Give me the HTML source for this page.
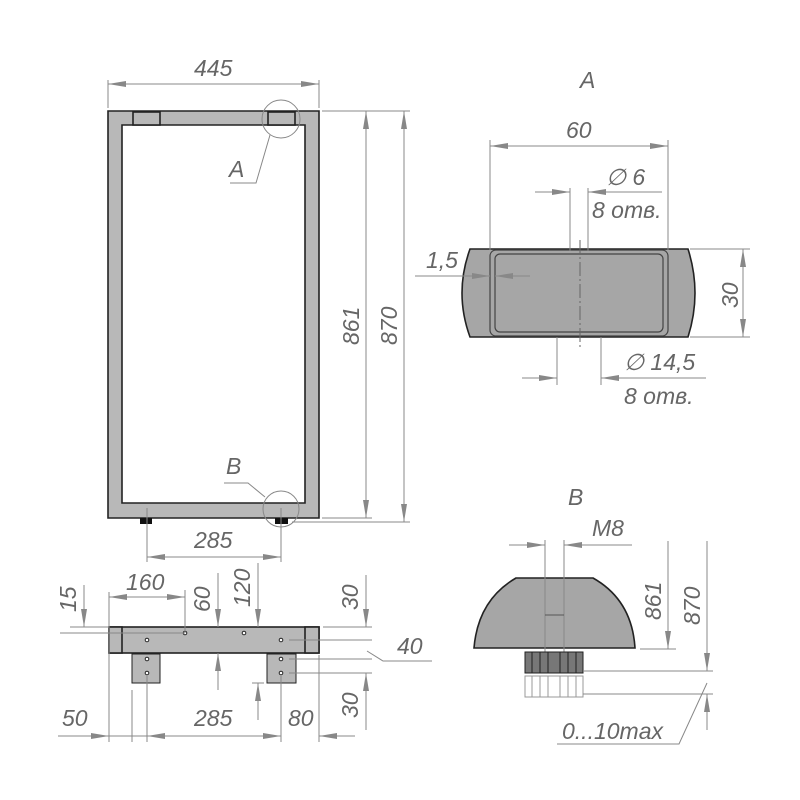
<!DOCTYPE html>
<html><head><meta charset="utf-8"><style>
html,body{margin:0;padding:0;background:#fff}
svg{display:block}
text{font-family:"Liberation Sans",sans-serif;font-style:italic;fill:#666;font-size:23px}
.d{stroke:#888;stroke-width:1;fill:none}
.o{stroke:#222;stroke-width:1.6}
</style></head><body>
<svg width="800" height="800" viewBox="0 0 800 800" xmlns="http://www.w3.org/2000/svg">
<defs>
<marker id="a" markerUnits="userSpaceOnUse" markerWidth="18" markerHeight="8" refX="18" refY="4" orient="auto-start-reverse"><path d="M0,1 L18,4 L0,7z" fill="#888"/></marker>
</defs>

<!-- MAIN FRAME -->
<path d="M108,111 H319 V518 H108 Z M122,125 V503 H305 V125 Z" fill="#b8b8b8" fill-rule="evenodd" class="o"/>
<rect x="133" y="112" width="27" height="13" fill="#b8b8b8" class="o"/>
<rect x="268" y="112" width="27" height="13" fill="#b8b8b8" class="o"/>
<rect x="140" y="518" width="12" height="6" fill="#111"/>
<rect x="275" y="518" width="13" height="6" fill="#111"/>
<!-- 445 -->
<line class="d" x1="108" y1="80" x2="108" y2="108"/><line class="d" x1="319" y1="80" x2="319" y2="108"/>
<line class="d" x1="108" y1="84" x2="319" y2="84" marker-start="url(#a)" marker-end="url(#a)"/>
<text x="194" y="76">445</text>
<!-- 861 / 870 -->
<line class="d" x1="322" y1="111" x2="410" y2="111"/>
<line class="d" x1="322" y1="518" x2="372" y2="518"/>
<line class="d" x1="292" y1="522" x2="410" y2="522"/>
<line class="d" x1="366" y1="111" x2="366" y2="518" marker-start="url(#a)" marker-end="url(#a)"/>
<line class="d" x1="404" y1="111" x2="404" y2="522" marker-start="url(#a)" marker-end="url(#a)"/>
<text transform="translate(359,345) rotate(-90)">861</text>
<text transform="translate(397,345) rotate(-90)">870</text>
<!-- A callout -->
<circle cx="281" cy="119" r="19" class="d"/>
<polyline class="d" points="270,135 256,183 230,183"/>
<text x="229" y="177" font-size="27">A</text>
<!-- B callout -->
<circle cx="281" cy="509" r="18" class="d"/>
<polyline class="d" points="265,497 248,483 224,483"/>
<text x="226" y="474" font-size="27">B</text>
<!-- 285 -->
<line class="d" x1="147" y1="508" x2="147" y2="562"/><line class="d" x1="281" y1="508" x2="281" y2="562"/>
<line class="d" x1="147" y1="557" x2="281" y2="557" marker-start="url(#a)" marker-end="url(#a)"/>
<text x="194" y="548">285</text>

<!-- VIEW A -->
<text x="580" y="88" font-size="27">A</text>
<path d="M470,249 H688 Q702,293 688,337 H470 Q454,293 470,249 Z" fill="#a6a6a6" class="o"/>
<rect x="490" y="250" width="178" height="86" rx="6" fill="none" stroke="#444" stroke-width="1.2"/>
<rect x="495" y="254" width="168" height="78" rx="5" fill="none" stroke="#444" stroke-width="1.2"/>
<line class="d" x1="490" y1="140" x2="490" y2="250"/><line class="d" x1="668" y1="140" x2="668" y2="250"/>
<line class="d" x1="490" y1="146" x2="668" y2="146" marker-start="url(#a)" marker-end="url(#a)"/>
<text x="566" y="138">60</text>
<line class="d" x1="570" y1="188" x2="570" y2="251"/><line class="d" x1="588" y1="188" x2="588" y2="251"/>
<line class="d" x1="535" y1="192" x2="570" y2="192" marker-end="url(#a)"/>
<line class="d" x1="588" y1="192" x2="662" y2="192" marker-start="url(#a)"/>
<text x="606" y="185">∅ 6</text>
<text x="592" y="218">8 отв.</text>
<line x1="580" y1="240" x2="580" y2="348" stroke="#666" stroke-dasharray="14,3,2,3"/>
<line class="d" x1="415" y1="276" x2="490" y2="276" marker-end="url(#a)"/>
<line class="d" x1="495" y1="276" x2="530" y2="276" marker-start="url(#a)"/>
<text x="426" y="268">1,5</text>
<line class="d" x1="690" y1="249" x2="750" y2="249"/><line class="d" x1="690" y1="337" x2="750" y2="337"/>
<line class="d" x1="743" y1="249" x2="743" y2="337" marker-start="url(#a)" marker-end="url(#a)"/>
<text transform="translate(738,308) rotate(-90)">30</text>
<line class="d" x1="557" y1="337" x2="557" y2="385"/><line class="d" x1="601" y1="337" x2="601" y2="385"/>
<line class="d" x1="522" y1="378" x2="557" y2="378" marker-end="url(#a)"/>
<line class="d" x1="601" y1="378" x2="706" y2="378" marker-start="url(#a)"/>
<text x="624" y="370">∅ 14,5</text>
<text x="624" y="404">8 отв.</text>

<!-- VIEW B -->
<text x="568" y="505" font-size="27">B</text>
<path d="M516,578 H593 Q632,600 635,648 H474 Q478,600 516,578 Z" fill="#a6a6a6" class="o"/>
<line class="d" x1="545" y1="540" x2="545" y2="672"/><line class="d" x1="564" y1="540" x2="564" y2="672"/>
<line x1="545" y1="615" x2="564" y2="615" stroke="#555"/>
<line class="d" x1="509" y1="545" x2="545" y2="545" marker-end="url(#a)"/>
<line class="d" x1="564" y1="545" x2="632" y2="545" marker-start="url(#a)"/>
<text x="592" y="536">M8</text>
<rect x="525" y="652" width="58" height="21" fill="#777" stroke="#222"/>
<g stroke="#222" stroke-width="1"><line x1="532" y1="652" x2="532" y2="673"/><line x1="540" y1="652" x2="540" y2="673"/><line x1="548" y1="652" x2="548" y2="673"/><line x1="560" y1="652" x2="560" y2="673"/><line x1="568" y1="652" x2="568" y2="673"/><line x1="576" y1="652" x2="576" y2="673"/></g>
<rect x="525" y="676" width="58" height="21" fill="#fff" stroke="#999"/>
<g stroke="#999"><line x1="532" y1="676" x2="532" y2="697"/><line x1="540" y1="676" x2="540" y2="697"/><line x1="548" y1="676" x2="548" y2="697"/><line x1="560" y1="676" x2="560" y2="697"/><line x1="568" y1="676" x2="568" y2="697"/><line x1="576" y1="676" x2="576" y2="697"/></g>
<line class="d" x1="640" y1="649" x2="676" y2="649"/>
<line class="d" x1="583" y1="671" x2="713" y2="671"/>
<line class="d" x1="583" y1="694" x2="713" y2="694"/>
<line class="d" x1="668" y1="541" x2="668" y2="649" marker-end="url(#a)"/>
<line class="d" x1="707" y1="541" x2="707" y2="671" marker-end="url(#a)"/>
<line class="d" x1="707" y1="694" x2="707" y2="730" marker-start="url(#a)"/>
<text transform="translate(661,620) rotate(-90)">861</text>
<text transform="translate(700,625) rotate(-90)">870</text>
<polyline class="d" points="557,744 679,744 707,683"/>
<text x="562" y="739">0...10max</text>

<!-- BOTTOM VIEW -->
<rect x="109" y="627" width="210" height="26" fill="#b8b8b8" class="o"/>
<rect x="109" y="627" width="13" height="26" fill="#b8b8b8" class="o"/>
<rect x="305" y="627" width="14" height="26" fill="#b8b8b8" class="o"/>
<rect x="132" y="654" width="28" height="29" fill="#b8b8b8" stroke="#222"/>
<rect x="267" y="654" width="29" height="29" fill="#b8b8b8" stroke="#222"/>
<g fill="#fff" stroke="#222" stroke-width="1"><circle cx="147" cy="640" r="1.8"/><circle cx="185" cy="633" r="1.8"/><circle cx="244" cy="633" r="1.8"/><circle cx="281" cy="640" r="1.8"/><circle cx="147" cy="659" r="1.8"/><circle cx="147" cy="673" r="1.8"/><circle cx="281" cy="659" r="1.8"/><circle cx="281" cy="673" r="1.8"/></g>
<line class="d" x1="60" y1="633" x2="185" y2="633"/>
<line class="d" x1="109" y1="592" x2="109" y2="742"/><line class="d" x1="185" y1="590" x2="185" y2="633"/>
<line class="d" x1="109" y1="597" x2="185" y2="597" marker-start="url(#a)" marker-end="url(#a)"/>
<text x="126" y="590">160</text>
<line class="d" x1="84" y1="585" x2="84" y2="627" marker-end="url(#a)"/>
<line class="d" x1="70" y1="627" x2="109" y2="627"/>
<text transform="translate(76,612) rotate(-90)">15</text>
<line class="d" x1="218" y1="573" x2="218" y2="627" marker-end="url(#a)"/>
<line class="d" x1="218" y1="653" x2="218" y2="690" marker-start="url(#a)"/>
<text transform="translate(210,612) rotate(-90)">60</text>
<line class="d" x1="258" y1="563" x2="258" y2="627" marker-end="url(#a)"/>
<line class="d" x1="258" y1="683" x2="258" y2="720" marker-start="url(#a)"/>
<line class="d" x1="252" y1="683" x2="264" y2="683"/>
<text transform="translate(250,607) rotate(-90)">120</text>
<line class="d" x1="323" y1="627" x2="372" y2="627"/>
<line class="d" x1="289" y1="640" x2="372" y2="640"/>
<line class="d" x1="289" y1="659" x2="372" y2="659"/>
<line class="d" x1="289" y1="673" x2="372" y2="673"/>
<line class="d" x1="366" y1="575" x2="366" y2="627" marker-end="url(#a)"/>
<line class="d" x1="366" y1="673" x2="366" y2="730" marker-start="url(#a)"/>
<text transform="translate(358,610) rotate(-90)">30</text>
<text transform="translate(358,718) rotate(-90)">30</text>
<polyline class="d" points="367,651 383,661 432,661"/>
<text x="397" y="654">40</text>
<line class="d" x1="132" y1="690" x2="132" y2="742"/><line class="d" x1="147" y1="676" x2="147" y2="742"/>
<line class="d" x1="281" y1="676" x2="281" y2="742"/><line class="d" x1="319" y1="655" x2="319" y2="742"/>
<line class="d" x1="58" y1="736" x2="109" y2="736" marker-end="url(#a)"/>
<line class="d" x1="109" y1="736" x2="147" y2="736"/>
<line class="d" x1="147" y1="736" x2="281" y2="736" marker-start="url(#a)" marker-end="url(#a)"/>
<line class="d" x1="319" y1="736" x2="355" y2="736" marker-start="url(#a)"/>
<text x="62" y="726">50</text>
<text x="194" y="726">285</text>
<text x="288" y="726">80</text>
</svg>
</body></html>
